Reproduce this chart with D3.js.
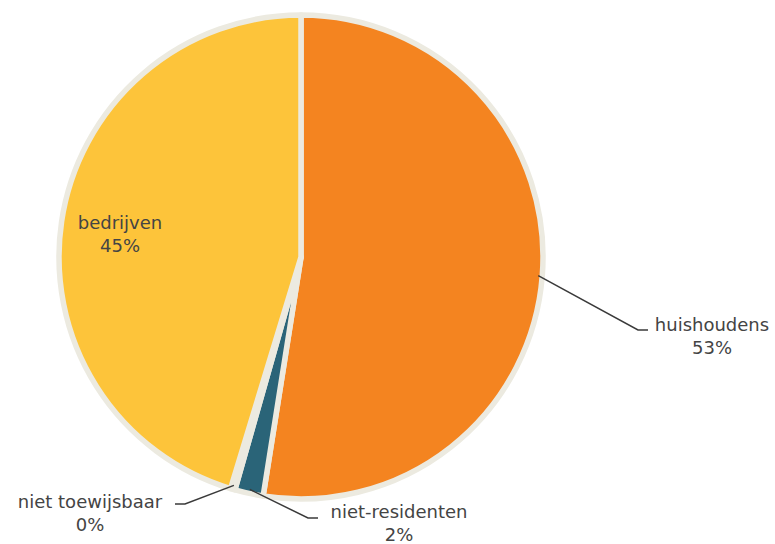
<!DOCTYPE html>
<html>
<head>
<meta charset="utf-8">
<script src="https://cdn.jsdelivr.net/npm/d3@7"></script>
<style>
  body { margin: 0; background: #ffffff; }
  svg { display: block; }
</style>
</head>
<body>
<script>
// data
let categories = ['huishoudens', 'niet-residenten', 'niet toewijsbaar', 'bedrijven'];
let values = [52.5, 1.9, 0.3, 45.3];
let labels = ['53%', '2%', '0%', '45%'];
let colors = ['#F48420', '#2A6478', '#A9B9CF', '#FDC43A'];

let w = 775;
let h = 544;
let cx = 301, cy = 257;
let radius = 242;

let svg = d3.select('body')
  .append('svg')
  .attr('width', w)
  .attr('height', h);

let pie = d3.pie().sort(null).value(d => d.value);
let arc = d3.arc().innerRadius(0).outerRadius(radius);

let slices = pie(categories.map((c, i) => ({ name: c, value: values[i], label: labels[i], color: colors[i] })));

let g = svg.append('g').attr('transform', 'translate(' + cx + ',' + cy + ')');

g.selectAll('path')
  .data(slices)
  .enter()
  .append('path')
  .attr('d', arc)
  .attr('fill', d => d.data.color)
  .attr('stroke', '#ECEAE0')
  .attr('stroke-width', 5.5)
  .attr('stroke-linejoin', 'round');

// label layout: leader elbow offset and text centre (relative to pie centre)
let layout = {
  'huishoudens':      { line: true,  elbow: [337, 73], tail: 10,  text: [411, 68] },
  'niet-residenten':  { line: true,  elbow: [7, 261],  tail: 10,  text: [98, 255] },
  'niet toewijsbaar': { line: true,  elbow: [-116, 247], tail: -10, text: [-211, 245] },
  'bedrijven':        { line: false, text: [-181, -34] }
};

let labelArc = d3.arc().innerRadius(238).outerRadius(238);

slices.forEach(d => {
  let L = layout[d.data.name];
  if (L.line) {
    let p0 = labelArc.centroid(d);
    let p1 = L.elbow;
    let p2 = [p1[0] + L.tail, p1[1]];
    g.append('polyline')
      .attr('points', [p0, p1, p2].map(p => p.join(',')).join(' '))
      .attr('fill', 'none')
      .attr('stroke', '#3a3a3a')
      .attr('stroke-width', 1.5);
  }
  let t = g.append('text')
    .attr('x', L.text[0])
    .attr('y', L.text[1])
    .attr('text-anchor', 'middle')
    .style('font-family', 'DejaVu Sans, sans-serif')
    .style('font-size', '18px')
    .style('fill', '#444444');
  t.append('tspan').attr('x', L.text[0]).attr('dy', '0.35em').text(d.data.name);
  t.append('tspan').attr('x', L.text[0]).attr('dy', '1.27em').text(d.data.label);
});
</script>
</body>
</html>
